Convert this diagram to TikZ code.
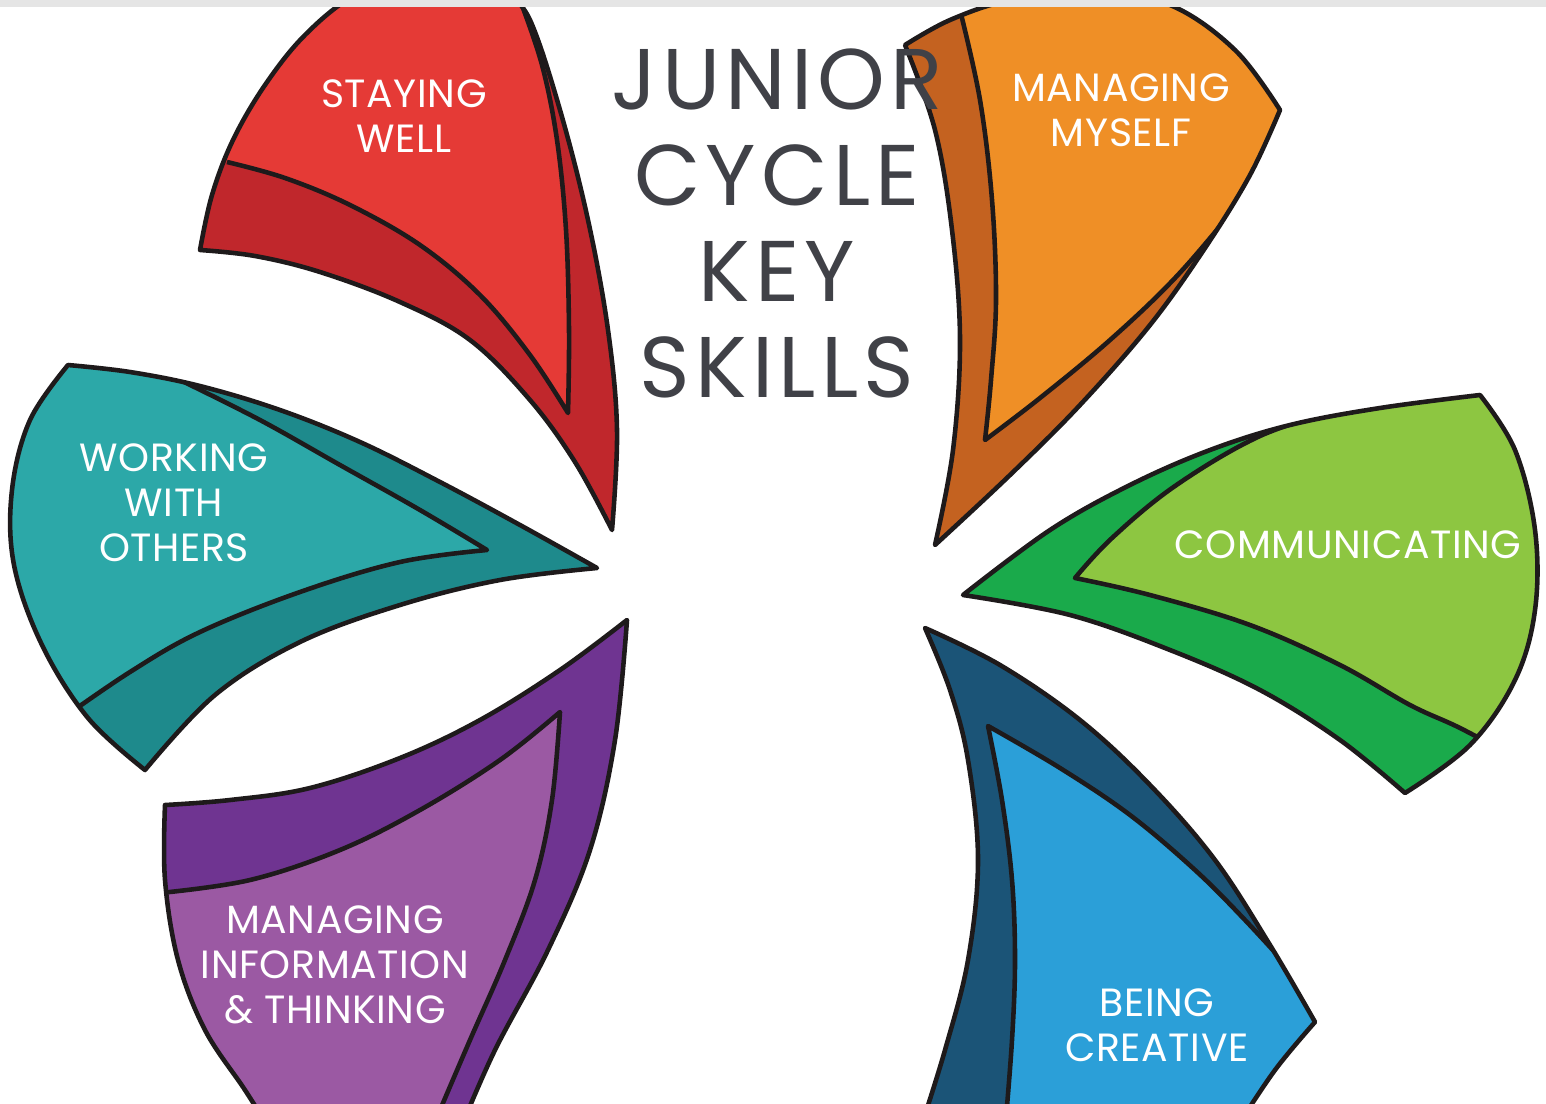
\documentclass[tikz,border=0pt]{standalone}
\usepackage{fontspec}
\setmainfont{Poppins}
\usepackage{tikz}
\usetikzlibrary{positioning}
\definecolor{redlight}{RGB}{229,58,54}
\definecolor{reddark}{RGB}{192,39,44}
\definecolor{oralight}{RGB}{239,143,38}
\definecolor{oradark}{RGB}{196,98,32}
\definecolor{teallight}{RGB}{44,168,168}
\definecolor{tealdark}{RGB}{30,138,140}
\definecolor{greenlight}{RGB}{141,198,65}
\definecolor{greendark}{RGB}{26,170,75}
\definecolor{purplight}{RGB}{155,89,163}
\definecolor{purpdark}{RGB}{111,52,145}
\definecolor{bluelight}{RGB}{43,159,216}
\definecolor{bluedark}{RGB}{27,84,119}
\definecolor{titlegray}{RGB}{64,65,71}
\definecolor{edge}{RGB}{30,26,27}
\definecolor{barGray}{RGB}{229,229,229}
\tikzset{outline/.style = {draw = edge, line width = 1.3pt, line join = round},
  lbl/.style = {text = white, align = center, inner sep = 0,
    font = \fontsize{11.2}{12.8}\selectfont\addfontfeature{LetterSpace=1.5}},
  ttl/.style = {text = titlegray, align = center, inner sep = 0,
    font = \fontsize{24.5}{27.3}\selectfont\addfontfeature{LetterSpace=6}}}

\def\redOut{plot[smooth,tension=0.6] coordinates {(200,250) (212,195) (233,140) (265,85) (305,35) (355,-5) (420,-30)} -- (470,-30) -- plot[smooth,tension=0.6] coordinates {(505,-10) (530,20) (560,110) (588,220) (608,330) (617,430) (612,530)} -- plot[smooth,tension=0.6] coordinates {(612,530) (575,462) (530,400) (470,340) (400,302) (320,272) (255,256) (200,250)} -- cycle}
\def\oraOut{plot[smooth,tension=0.6] coordinates {(935,545) (953,450) (960,340) (952,230) (935,130) (905,45)} -- plot[smooth,tension=0.6] coordinates {(905,45) (950,20) (1010,0) (1090,-10) (1170,5) (1235,50) (1280,110)} -- plot[smooth,tension=0.6] coordinates {(1280,110) (1250,175) (1205,248) (1150,325) (1080,405) (1010,475) (935,545)} -- cycle}
\def\tealOut{plot[smooth,tension=0.6] coordinates {(68,365) (130,372) (200,386) (280,410) (360,442) (440,482) (520,525) (597,568)} -- plot[smooth,tension=0.6] coordinates {(597,568) (500,580) (400,605) (300,642) (215,695) (145,770)} -- plot[smooth,tension=0.6] coordinates {(145,770) (88,718) (42,645) (14,565) (12,490) (30,420) (68,365)} -- cycle}
\def\greenOut{plot[smooth,tension=0.6] coordinates {(963,595) (1050,530) (1130,485) (1210,450) (1290,425) (1380,408) (1480,395)} -- plot[smooth,tension=0.6] coordinates {(1480,395) (1515,450) (1535,530) (1535,610) (1515,680) (1470,745) (1405,793)} -- plot[smooth,tension=0.6] coordinates {(1405,793) (1340,740) (1260,690) (1170,650) (1070,615) (963,595)} -- cycle}
\def\purpOut{plot[smooth,tension=0.6] coordinates {(627,620) (560,670) (480,720) (400,758) (310,788) (230,800) (165,805)} -- plot[smooth,tension=0.6] coordinates {(165,805) (165,880) (178,960) (205,1030) (245,1090) (270,1130)} -- (460,1130) -- plot[smooth,tension=0.6] coordinates {(460,1130) (495,1050) (548,950) (590,850) (615,740) (627,620)} -- cycle}
\def\blueOut{plot[smooth,tension=0.6] coordinates {(925,628) (1000,665) (1080,720) (1150,785) (1215,860) (1270,945) (1315,1022)} -- plot[smooth,tension=0.6] coordinates {(1315,1022) (1275,1070) (1235,1130)} -- (920,1130) -- plot[smooth,tension=0.6] coordinates {(920,1130) (945,1050) (968,960) (978,860) (968,760) (950,690) (925,628)} -- cycle}

\begin{document}
\begin{tikzpicture}[x=0.01cm, y=-0.01cm]
  \useasboundingbox (0,0) rectangle (1546,1103);
  \clip (0,0) rectangle (1546,1103);

  \fill [reddark] \redOut;
  \begin{scope}
    \clip \redOut;
    \fill [redlight] (150,-60) -- plot[smooth,tension=0.6] coordinates {(227,162) (285,178) (350,205) (420,245) (480,295) (530,355) (568,413)} -- plot[smooth,tension=0.6] coordinates {(568,413) (569,330) (566,230) (557,140) (542,65) (520,0)} -- (500,-60) -- cycle;
    \draw [outline] plot[smooth,tension=0.6] coordinates {(227,162) (285,178) (350,205) (420,245) (480,295) (530,355) (568,413)} -- plot[smooth,tension=0.6] coordinates {(568,413) (569,330) (566,230) (557,140) (542,65) (520,0)};
  \end{scope}
  \draw [outline] \redOut;

  \fill [oradark] \oraOut;
  \begin{scope}
    \clip \oraOut;
    \fill [oralight] (955,-60) -- plot[smooth,tension=0.6] coordinates {(960,10) (980,100) (992,200) (996,300) (991,380) (985,440)} -- plot[smooth,tension=0.6] coordinates {(985,440) (1040,398) (1110,340) (1175,278) (1235,208) (1290,140)} -- (1400,0) -- (1100,-60) -- cycle;
    \draw [outline] plot[smooth,tension=0.6] coordinates {(960,10) (980,100) (992,200) (996,300) (991,380) (985,440)} -- plot[smooth,tension=0.6] coordinates {(985,440) (1040,398) (1110,340) (1175,278) (1235,208) (1290,140)};
  \end{scope}
  \draw [outline] \oraOut;

  \fill [tealdark] \tealOut;
  \begin{scope}
    \clip \tealOut;
    \fill [teallight] (150,300) -- plot[smooth,tension=0.6] coordinates {(180,380) (260,420) (340,465) (420,510) (487,550)} -- plot[smooth,tension=0.6] coordinates {(487,550) (400,562) (300,592) (200,632) (130,672) (60,720)} -- (-50,750) -- (-50,300) -- cycle;
    \draw [outline] plot[smooth,tension=0.6] coordinates {(180,380) (260,420) (340,465) (420,510) (487,550)} -- plot[smooth,tension=0.6] coordinates {(487,550) (400,562) (300,592) (200,632) (130,672) (60,720)};
  \end{scope}
  \draw [outline] \tealOut;

  \fill [greendark] \greenOut;
  \begin{scope}
    \clip \greenOut;
    \fill [greenlight] (1350,300) -- plot[smooth,tension=0.6] coordinates {(1345,408) (1260,436) (1175,486) (1112,538) (1075,578)} -- plot[smooth,tension=0.6] coordinates {(1075,578) (1150,595) (1250,625) (1340,665) (1410,705) (1460,728) (1520,760)} -- (1600,800) -- (1600,300) -- cycle;
    \draw [outline] plot[smooth,tension=0.6] coordinates {(1345,408) (1260,436) (1175,486) (1112,538) (1075,578)} -- plot[smooth,tension=0.6] coordinates {(1075,578) (1150,595) (1250,625) (1340,665) (1410,705) (1460,728) (1520,760)};
  \end{scope}
  \draw [outline] \greenOut;

  \fill [purpdark] \purpOut;
  \begin{scope}
    \clip \purpOut;
    \fill [purplight] (100,895) -- plot[smooth,tension=0.6] coordinates {(160,893) (250,880) (340,850) (420,810) (500,760) (560,712)} -- plot[smooth,tension=0.6] coordinates {(560,712) (552,800) (535,880) (505,960) (470,1040) (440,1110)} -- (430,1200) -- (100,1200) -- cycle;
    \draw [outline] plot[smooth,tension=0.6] coordinates {(160,893) (250,880) (340,850) (420,810) (500,760) (560,712)} -- plot[smooth,tension=0.6] coordinates {(560,712) (552,800) (535,880) (505,960) (470,1040) (440,1110)};
  \end{scope}
  \draw [outline] \purpOut;

  \fill [bluedark] \blueOut;
  \begin{scope}
    \clip \blueOut;
    \fill [bluelight] (1005,1200) -- plot[smooth,tension=0.6] coordinates {(1005,1130) (1012,1040) (1015,960) (1012,880) (1002,800) (988,726)} -- plot[smooth,tension=0.6] coordinates {(988,726) (1060,768) (1130,815) (1195,870) (1245,920) (1300,980)} -- (1400,1000) -- (1400,1200) -- cycle;
    \draw [outline] plot[smooth,tension=0.6] coordinates {(1005,1130) (1012,1040) (1015,960) (1012,880) (1002,800) (988,726)} -- plot[smooth,tension=0.6] coordinates {(988,726) (1060,768) (1130,815) (1195,870) (1245,920) (1300,980)};
  \end{scope}
  \draw [outline] \blueOut;

  \fill [barGray] (0,0) rectangle (1546,7);

  \node [lbl] (staying) at (404,116) {STAYING\\WELL};
  \node [lbl] (myself) at (1121,110) {MANAGING\\MYSELF};
  \node [lbl] (others) at (174,503) {WORKING\\WITH\\OTHERS};
  \node [lbl] (communicating) at (1348,545) {COMMUNICATING};
  \node [lbl] (information) at (335,965) {MANAGING\\INFORMATION\\\& THINKING};
  \node [lbl] (creative) at (1157,1025) {BEING\\CREATIVE};
  \node [ttl] (title) at (777,223) {JUNIOR\\CYCLE\\KEY\\SKILLS};
\end{tikzpicture}
\end{document}
